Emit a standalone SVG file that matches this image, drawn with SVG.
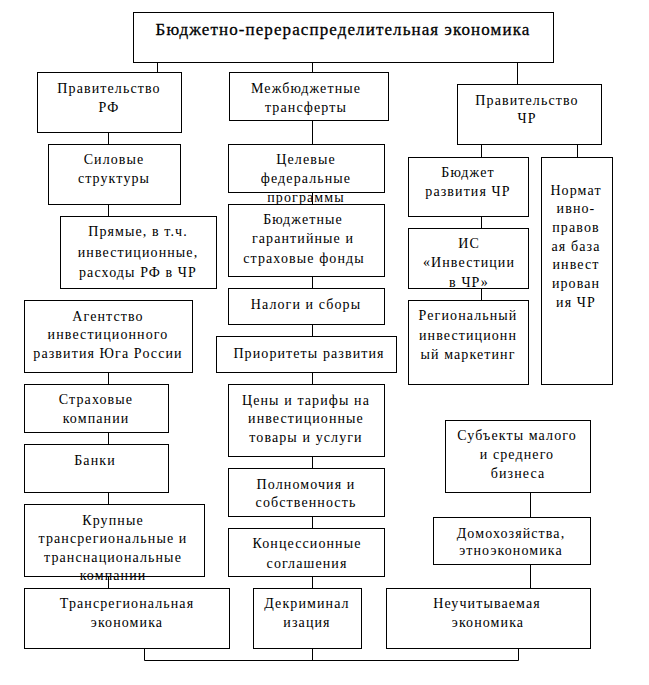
<svg xmlns="http://www.w3.org/2000/svg" width="649" height="685" viewBox="0 0 649 685" font-family="'Liberation Serif', 'Times New Roman', 'DejaVu Serif', serif">
<style>
rect{fill:#fff;stroke:#000;stroke-width:1}
.c line,.c polyline{stroke:#000;stroke-width:1;fill:none}
text{font-family:'Liberation Serif','Times New Roman','DejaVu Serif',serif;font-size:14px;fill:#000;text-anchor:middle;letter-spacing:1.1px}
.t{font-size:17px;letter-spacing:1.1px;stroke:#000;stroke-width:0.3}
</style>
<rect x="0" y="0" width="649" height="685" style="fill:#fff;stroke:none"/>
<g class="c" id="connectors">
<line x1="157.5" y1="62" x2="157.5" y2="72"/>
<line x1="312.5" y1="62" x2="312.5" y2="72"/>
<line x1="517.5" y1="62" x2="517.5" y2="84"/>
<line x1="108.5" y1="132" x2="108.5" y2="144"/>
<line x1="108.5" y1="204" x2="108.5" y2="216"/>
<line x1="108.5" y1="372" x2="108.5" y2="384"/>
<line x1="108.5" y1="432" x2="108.5" y2="444"/>
<line x1="108.5" y1="492" x2="108.5" y2="504"/>
<line x1="108.5" y1="576" x2="108.5" y2="588"/>
<line x1="312.5" y1="120" x2="312.5" y2="144"/>
<line x1="312.5" y1="192" x2="312.5" y2="204"/>
<line x1="312.5" y1="276" x2="312.5" y2="288"/>
<line x1="312.5" y1="324" x2="312.5" y2="336"/>
<line x1="312.5" y1="372" x2="312.5" y2="384"/>
<line x1="312.5" y1="456" x2="312.5" y2="468"/>
<line x1="312.5" y1="516" x2="312.5" y2="528"/>
<line x1="312.5" y1="576" x2="312.5" y2="588"/>
<line x1="312.5" y1="648" x2="312.5" y2="660"/>
<line x1="481.5" y1="144" x2="481.5" y2="157"/>
<line x1="577.5" y1="144" x2="577.5" y2="157"/>
<line x1="481.5" y1="216" x2="481.5" y2="228"/>
<line x1="481.5" y1="288" x2="481.5" y2="300"/>
<line x1="530.5" y1="492" x2="530.5" y2="517"/>
<line x1="530.5" y1="564" x2="530.5" y2="588"/>
<polyline points="144.5,648 144.5,660.5 518.5,660.5 518.5,648"/>
</g>
<g id="n-title"><rect x="133.5" y="12.5" width="420" height="50"/><text class="t" x="343" y="35">Бюджетно-перераспределительная экономика</text></g>
<g id="n-govrf"><rect x="37.5" y="72.5" width="144" height="60"/><text x="109" y="93">Правительство</text><text x="109" y="112">РФ</text></g>
<g id="n-transfers"><rect x="229.5" y="72.5" width="159" height="48"/><text x="306" y="93">Межбюджетные</text><text x="306" y="112">трансферты</text></g>
<g id="n-govchr"><rect x="457.5" y="84.5" width="144" height="60"/><text x="527" y="105">Правительство</text><text x="527" y="123">ЧР</text></g>
<g id="n-power"><rect x="48.5" y="144.5" width="132" height="60"/><text x="114" y="164">Силовые</text><text x="114" y="183">структуры</text></g>
<g id="n-direct"><rect x="60.5" y="216.5" width="156" height="72"/><text x="138" y="236">Прямые, в т.ч.</text><text x="138" y="257">инвестиционные,</text><text x="138" y="277">расходы РФ в ЧР</text></g>
<g id="n-agency"><rect x="24.5" y="300.5" width="168" height="72"/><text x="108" y="321">Агентство</text><text x="108" y="339">инвестиционного</text><text x="108" y="358">развития Юга России</text></g>
<g id="n-insur"><rect x="24.5" y="384.5" width="144" height="48"/><text x="96" y="404">Страховые</text><text x="96" y="423">компании</text></g>
<g id="n-banks"><rect x="24.5" y="444.5" width="144" height="48"/><text x="95" y="465">Банки</text></g>
<g id="n-large"><rect x="24.5" y="504.5" width="180" height="72"/><text x="113" y="525">Крупные</text><text x="113" y="543">трансрегиональные и</text><text x="113" y="562">транснациональные</text><text x="113" y="580">компании</text></g>
<g id="n-transreg"><rect x="24.5" y="588.5" width="205" height="60"/><text x="127" y="608">Трансрегиональная</text><text x="127" y="627">экономика</text></g>
<g id="n-fcp"><rect x="228.5" y="144.5" width="156" height="48"/><text x="306" y="164">Целевые</text><text x="306" y="183">федеральные</text><text x="306" y="202">программы</text></g>
<g id="n-funds"><rect x="228.5" y="204.5" width="156" height="72"/><text x="303" y="224">Бюджетные</text><text x="303" y="243">гарантийные и</text><text x="304" y="263">страховые фонды</text></g>
<g id="n-taxes"><rect x="228.5" y="288.5" width="156" height="36"/><text x="306" y="309">Налоги и сборы</text></g>
<g id="n-priorities"><rect x="216.5" y="336.5" width="180" height="36"/><text x="309" y="358">Приоритеты развития</text></g>
<g id="n-prices"><rect x="228.5" y="384.5" width="156" height="72"/><text x="306" y="405">Цены и тарифы на</text><text x="306" y="423">инвестиционные</text><text x="306" y="442">товары и услуги</text></g>
<g id="n-powers"><rect x="228.5" y="468.5" width="156" height="48"/><text x="306" y="489">Полномочия и</text><text x="306" y="507">собственность</text></g>
<g id="n-concess"><rect x="228.5" y="528.5" width="156" height="48"/><text x="307" y="548">Концессионные</text><text x="307" y="568">соглашения</text></g>
<g id="n-decrim"><rect x="253.5" y="588.5" width="108" height="60"/><text x="307" y="608">Декриминал</text><text x="307" y="627">изация</text></g>
<g id="n-budget"><rect x="408.5" y="157.5" width="120" height="59"/><text x="468" y="177">Бюджет</text><text x="468" y="196">развития ЧР</text></g>
<g id="n-is"><rect x="408.5" y="228.5" width="120" height="60"/><text x="469" y="248">ИС</text><text x="469" y="267">«Инвестиции</text><text x="469" y="287">в ЧР»</text></g>
<g id="n-marketing"><rect x="408.5" y="300.5" width="120" height="84"/><text x="468" y="320">Региональный</text><text x="468" y="340">инвестиционн</text><text x="468" y="359">ый маркетинг</text></g>
<g id="n-norm"><rect x="541.5" y="157.5" width="71" height="227"/><text x="576" y="195">Нормат</text><text x="576" y="213">ивно-</text><text x="576" y="232">правов</text><text x="576" y="251">ая база</text><text x="576" y="269">инвест</text><text x="576" y="288">ирован</text><text x="576" y="307">ия ЧР</text></g>
<g id="n-sme"><rect x="445.5" y="420.5" width="145" height="72"/><text x="517" y="440">Субъекты малого</text><text x="517" y="459">и среднего</text><text x="518" y="478">бизнеса</text></g>
<g id="n-house"><rect x="433.5" y="517.5" width="157" height="47"/><text x="511" y="538">Домохозяйства,</text><text x="511" y="555">этноэкономика</text></g>
<g id="n-hidden"><rect x="386.5" y="588.5" width="204" height="60"/><text x="487" y="608">Неучитываемая</text><text x="488" y="627">экономика</text></g>
</svg>
